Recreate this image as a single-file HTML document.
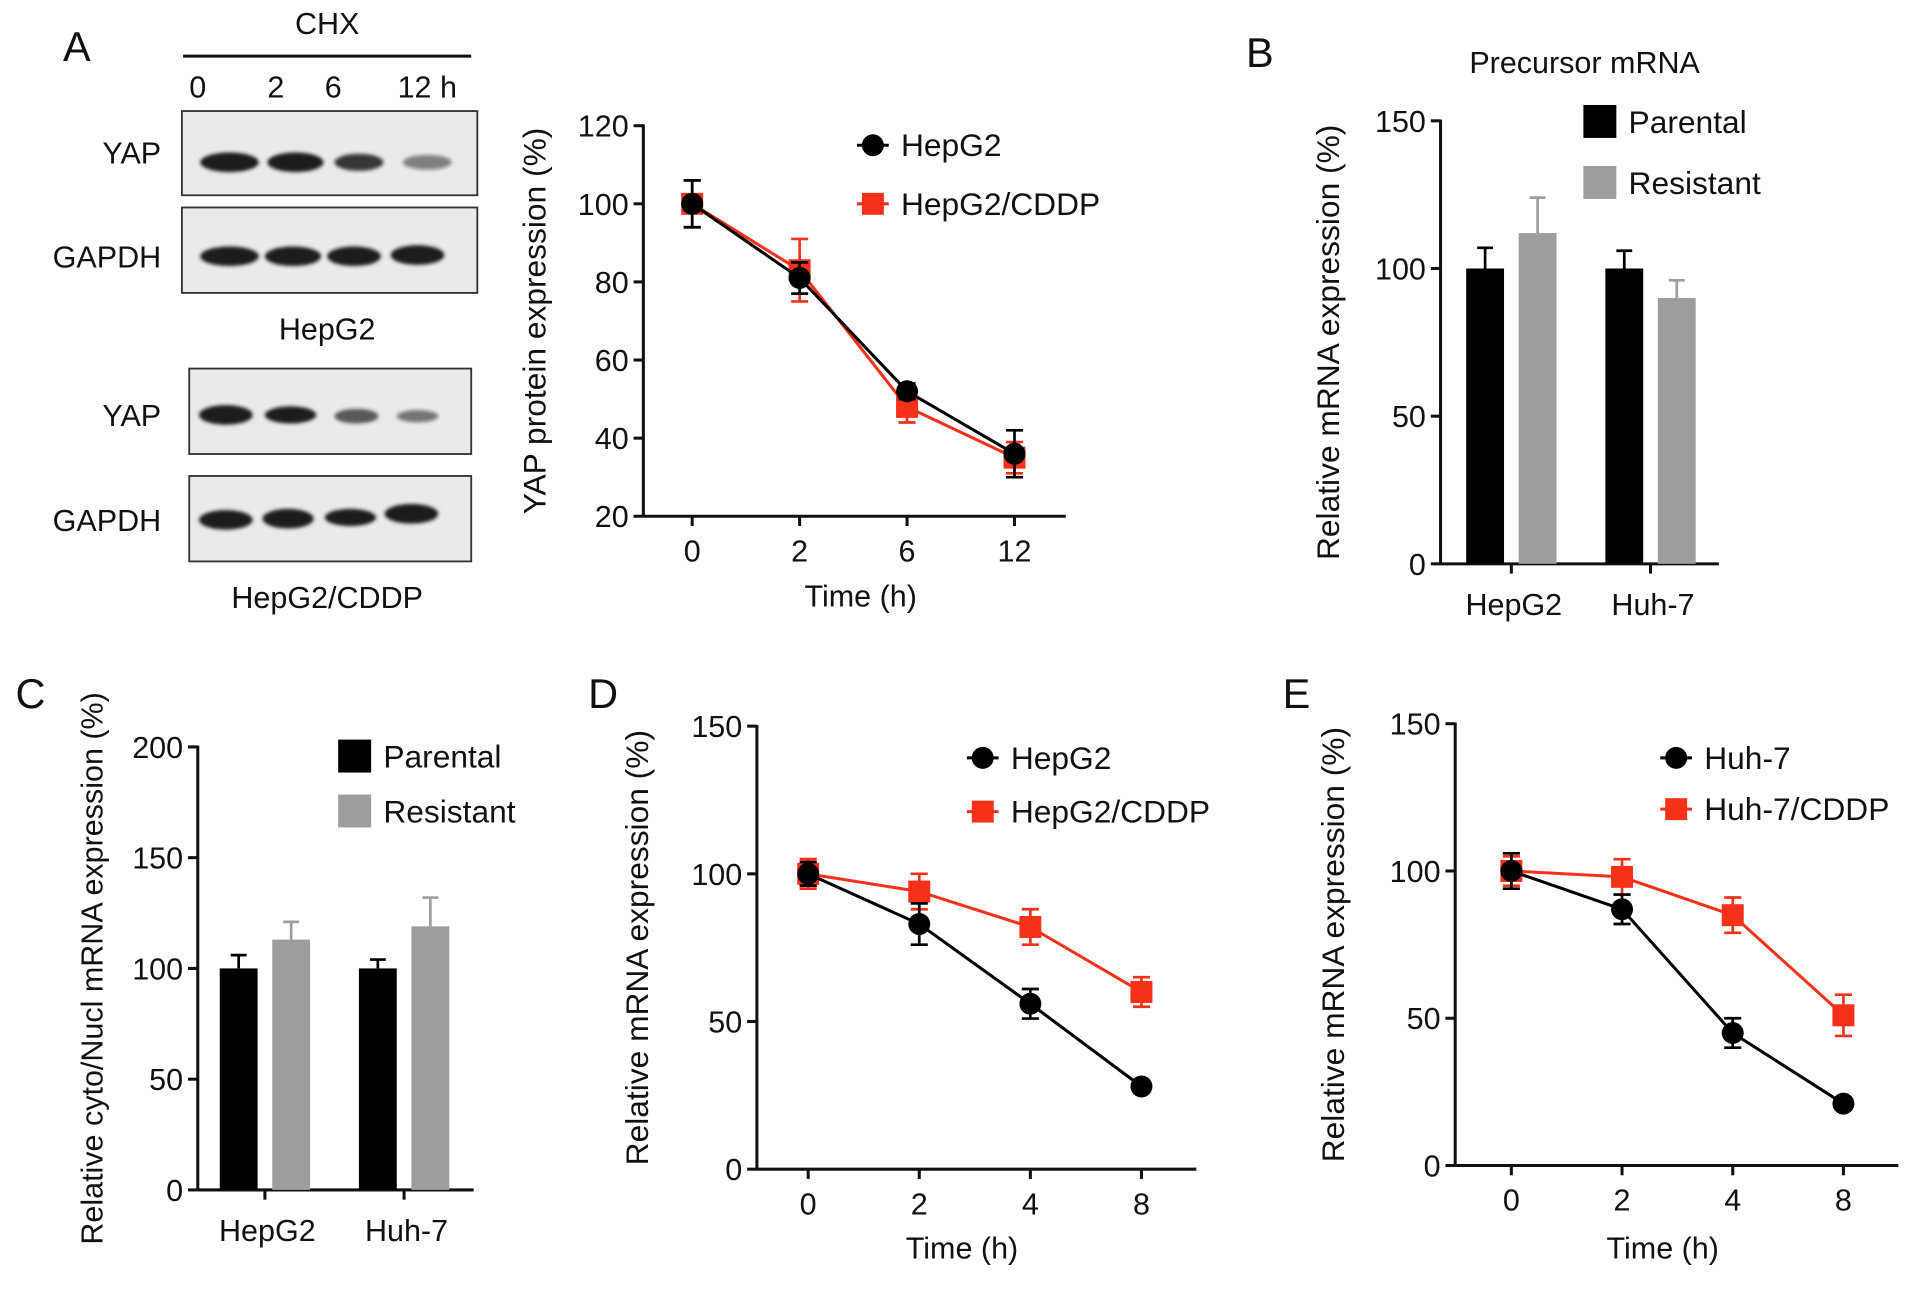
<!DOCTYPE html>
<html><head><meta charset="utf-8"><style>
html,body{margin:0;padding:0;background:#fff;}
svg{display:block;}
text{font-family:"Liberation Sans",sans-serif;fill:#111;}
</style></head><body>
<svg id="fig" width="1913" height="1290" viewBox="0 0 1567 1057" preserveAspectRatio="none" xmlns="http://www.w3.org/2000/svg">
<defs><filter id="blur"><feGaussianBlur stdDeviation="1.5"/></filter></defs>
<g font-size="25">
<text x="63" y="50" font-size="34" text-anchor="middle">A</text>
<text x="268" y="28" text-anchor="middle">CHX</text>
<line x1="150" y1="46" x2="386" y2="46" stroke="#111" stroke-width="2.5"/>
<text x="162" y="80" text-anchor="middle">0</text>
<text x="226" y="80" text-anchor="middle">2</text>
<text x="273" y="80" text-anchor="middle">6</text>
<text x="350" y="80" text-anchor="middle">12 h</text>
<rect x="149" y="91" width="242" height="69" fill="#eaeaea" stroke="#333" stroke-width="1.5"/>
<rect x="149" y="170" width="242" height="70" fill="#eaeaea" stroke="#333" stroke-width="1.5"/>
<rect x="155" y="302" width="231" height="70" fill="#eaeaea" stroke="#333" stroke-width="1.5"/>
<rect x="155" y="390" width="231" height="70" fill="#eaeaea" stroke="#333" stroke-width="1.5"/>
<g fill="#1a1a1a" filter="url(#blur)">
<ellipse cx="188" cy="133" rx="24" ry="8"/><ellipse cx="242" cy="133" rx="23" ry="8"/><ellipse cx="294" cy="133" rx="20" ry="7" opacity=".85"/><ellipse cx="350" cy="133" rx="20" ry="6" opacity=".5"/>
<ellipse cx="188" cy="210" rx="24" ry="8"/><ellipse cx="240" cy="210" rx="23" ry="8"/><ellipse cx="290" cy="210" rx="22" ry="8"/><ellipse cx="342" cy="209" rx="22" ry="8"/>
<ellipse cx="185" cy="340" rx="22" ry="8"/><ellipse cx="238" cy="340" rx="21" ry="7"/><ellipse cx="292" cy="341" rx="18" ry="6" opacity=".7"/><ellipse cx="342" cy="341" rx="17" ry="5" opacity=".55"/>
<ellipse cx="185" cy="426" rx="22" ry="8"/><ellipse cx="236" cy="425" rx="21" ry="8"/><ellipse cx="287" cy="424" rx="21" ry="7"/><ellipse cx="337" cy="421" rx="22" ry="8"/>
</g>
<text x="132" y="134" text-anchor="end">YAP</text>
<text x="132" y="219" text-anchor="end">GAPDH</text>
<text x="132" y="349" text-anchor="end">YAP</text>
<text x="132" y="435" text-anchor="end">GAPDH</text>
<text x="268" y="278" text-anchor="middle">HepG2</text>
<text x="268" y="498" text-anchor="middle">HepG2/CDDP</text>
</g>
<text x="1032" y="55" font-size="34" text-anchor="middle">B</text>
<text x="25" y="580" font-size="34" text-anchor="middle">C</text>
<text x="494" y="580" font-size="34" text-anchor="middle">D</text>
<text x="1062" y="580" font-size="34" text-anchor="middle">E</text>
<text x="1298" y="60" font-size="25" text-anchor="middle">Precursor mRNA</text>
</svg>
<script>
// Panel A data
const aCats=["0","2","6","12"];
const aHep=[100,81,52,36];
const aHepErr=[6,4,2,6];
const aCddp=[100,83,48,35];
const aCddpErr=[6,8,4,4];
const aTicks=[20,40,60,80,100,120];
// Panel D data
const dCats=["0","2","4","8"];
const dHep=[100,83,56,28];
const dHepErr=[4,7,5,2];
const dCddp=[100,94,82,60];
const dCddpErr=[5,6,6,5];
const dTicks=[0,50,100,150];
// Panel E data
const eCats=["0","2","4","8"];
const eHuh=[100,87,45,21];
const eHuhErr=[6,5,5,2];
const eCddp=[100,98,85,51];
const eCddpErr=[5,6,6,7];
const eTicks=[0,50,100,150];
// Panel B data
const bGroups=["HepG2","Huh-7"];
const bParental=[100,100];
const bParentalErr=[7,6];
const bResistant=[112,90];
const bResistantErr=[12,6];
const bTicks=[0,50,100,150];
// Panel C data
const cGroups=["HepG2","Huh-7"];
const cParental=[100,100];
const cParentalErr=[6,4];
const cResistant=[113,119];
const cResistantErr=[8,13];
const cTicks=[0,50,100,150,200];

const svg=document.getElementById('fig');
const NS="http://www.w3.org/2000/svg";
function mk(tag,attrs,parent){const e=document.createElementNS(NS,tag);for(const k in attrs)e.setAttribute(k,attrs[k]);(parent||svg).appendChild(e);return e;}
function txt(s,attrs,parent){const e=mk('text',attrs,parent);e.textContent=s;return e;}

function axes(g,x0,x1,yTop,yBot,ticks,yMin,yMax,ylabel,ylx,xlabel,xlx,xly,ylfs){
  const ys=v=>yBot-(v-yMin)/(yMax-yMin)*(yBot-yTop);
  mk('line',{x1:x0,y1:yTop-1,x2:x0,y2:yBot,stroke:'#111','stroke-width':2.5},g);
  mk('line',{x1:x0,y1:yBot,x2:x1,y2:yBot,stroke:'#111','stroke-width':2.5},g);
  ticks.forEach(t=>{
    mk('line',{x1:x0-8,y1:ys(t),x2:x0,y2:ys(t),stroke:'#111','stroke-width':2.5},g);
    const tl=txt(String(t),{x:x0-12,y:ys(t)+9,'text-anchor':'end','font-size':25},g);
    
    
  });
  const yl=txt(ylabel,{x:0,y:0,'text-anchor':'middle','font-size':ylfs||26,transform:`translate(${ylx},${(yTop+yBot)/2}) rotate(-90)`},g);
  
  
  if(xlabel){
    const xl=txt(xlabel,{x:xlx,y:xly,'text-anchor':'middle','font-size':25},g);
    
    
  }
  return ys;
}

function lineChart(name,cfg){
  const g=mk('g',{});
  
  
  const ys=axes(g,cfg.x0,cfg.x1,cfg.yTop,cfg.yBot,cfg.ticks,cfg.ticks[0],cfg.ticks[cfg.ticks.length-1],cfg.ylabel,cfg.ylx,'Time (h)',cfg.xlx,cfg.xly);
  const xs=i=>cfg.xFirst+i*(cfg.xLast-cfg.xFirst)/(cfg.cats.length-1);
  cfg.cats.forEach((c,i)=>{
    mk('line',{x1:xs(i),y1:cfg.yBot,x2:xs(i),y2:cfg.yBot+8,stroke:'#111','stroke-width':2.5},g);
    const t=txt(c,{x:xs(i),y:cfg.yBot+37,'text-anchor':'middle','font-size':25},g);
    
    
  });
  cfg.series.forEach(s=>{
    const sg=mk('g',{},g);
    
    
    mk('polyline',{points:s.vals.map((v,i)=>xs(i)+','+ys(v)).join(' '),fill:'none',stroke:s.color,'stroke-width':2.5},sg);
    s.vals.forEach((v,i)=>{
      const x=xs(i),e=s.err[i];
      mk('path',{d:`M${x},${ys(v+e)}V${ys(v-e)}M${x-7},${ys(v+e)}H${x+7}M${x-7},${ys(v-e)}H${x+7}`,stroke:s.color,'stroke-width':2.2,fill:'none'},sg);
      const m=s.shape==='c'?mk('circle',{cx:x,cy:ys(v),r:9,fill:s.color},sg):mk('rect',{x:x-9,y:ys(v)-9,width:18,height:18,fill:s.color},sg);
      
      
    });
    const lg=mk('g',{},g);
    
    
    mk('line',{x1:s.lx-13,y1:s.ly,x2:s.lx+13,y2:s.ly,stroke:s.color,'stroke-width':2.5},lg);
    if(s.shape==='c')mk('circle',{cx:s.lx,cy:s.ly,r:9,fill:s.color},lg);else mk('rect',{x:s.lx-9,y:s.ly-9,width:18,height:18,fill:s.color},lg);
    txt(s.name,{x:s.lx+23,y:s.ly+9,'font-size':26},lg);
  });
}

function barChart(name,cfg){
  const g=mk('g',{});
  
  
  const ys=axes(g,cfg.x0,cfg.x1,cfg.yTop,cfg.yBot,cfg.ticks,cfg.ticks[0],cfg.ticks[cfg.ticks.length-1],cfg.ylabel,cfg.ylx,null,0,0,cfg.ylfs);
  const sers=[{name:'Parental',vals:cfg.par,err:cfg.parErr,color:'#000',ec:'#000'},{name:'Resistant',vals:cfg.res,err:cfg.resErr,color:'#9d9d9d',ec:'#9d9d9d'}];
  cfg.groups.forEach((gn,gi)=>{
    const cx=cfg.gFirst+gi*cfg.gStep;
    mk('line',{x1:cx,y1:cfg.yBot,x2:cx,y2:cfg.yBot+8,stroke:'#111','stroke-width':2.5},g);
    const t=txt(gn,{x:cx+2,y:cfg.yBot+42,'text-anchor':'middle','font-size':25},g);
    
    
    sers.forEach((s,si)=>{
      const bx=cx-37+si*43,v=s.vals[gi],e=s.err[gi];
      mk('path',{d:`M${bx+15.5},${ys(v)}V${ys(v+e)}M${bx+9},${ys(v+e)}H${bx+22}`,stroke:s.ec,'stroke-width':2.2,fill:'none'},g);
      const r=mk('rect',{x:bx,y:ys(v),width:31,height:cfg.yBot-ys(v),fill:s.color},g);
      
      
    });
  });
  sers.forEach((s,si)=>{
    const lg=mk('g',{},g);
    
    
    const ly=cfg.ly+si*cfg.lstep;
    mk('rect',{x:cfg.lx,y:ly,width:27,height:27,fill:s.color},lg);
    txt(s.name,{x:cfg.lx+37,y:ly+23,'font-size':26},lg);
  });
}

lineChart('chart-a',{x0:527,x1:873,yTop:103,yBot:423,ticks:aTicks,cats:aCats,xFirst:567,xLast:831,ylabel:'YAP protein expression (%)',ylx:447,xlx:705,xly:497,
  series:[{name:'HepG2/CDDP',vals:aCddp,err:aCddpErr,color:'#f5311a',shape:'s',lx:715,ly:167},{name:'HepG2',vals:aHep,err:aHepErr,color:'#000',shape:'c',lx:715,ly:119}]});
lineChart('chart-d',{x0:620,x1:980,yTop:595,yBot:958,ticks:dTicks,cats:dCats,xFirst:662,xLast:935,ylabel:'Relative mRNA expression (%)',ylx:531,xlx:788,xly:1031,
  series:[{name:'HepG2/CDDP',vals:dCddp,err:dCddpErr,color:'#f5311a',shape:'s',lx:805,ly:665},{name:'HepG2',vals:dHep,err:dHepErr,color:'#000',shape:'c',lx:805,ly:621}]});
lineChart('chart-e',{x0:1192,x1:1555,yTop:593,yBot:955,ticks:eTicks,cats:eCats,xFirst:1238,xLast:1510,ylabel:'Relative mRNA expression (%)',ylx:1101,xlx:1362,xly:1031,
  series:[{name:'Huh-7/CDDP',vals:eCddp,err:eCddpErr,color:'#f5311a',shape:'s',lx:1373,ly:663},{name:'Huh-7',vals:eHuh,err:eHuhErr,color:'#000',shape:'c',lx:1373,ly:621}]});
barChart('chart-b',{x0:1180,x1:1408,yTop:99,yBot:462,ticks:bTicks,groups:bGroups,gFirst:1238,gStep:114,par:bParental,parErr:bParentalErr,res:bResistant,resErr:bResistantErr,ylabel:'Relative mRNA expression (%)',ylx:1097,lx:1297,ly:86,lstep:50});
barChart('chart-c',{x0:162,x1:388,yTop:612,yBot:975,ticks:cTicks,groups:cGroups,gFirst:217,gStep:114,par:cParental,parErr:cParentalErr,res:cResistant,resErr:cResistantErr,ylabel:'Relative cyto/Nucl mRNA expression (%)',ylx:84,ylfs:25,lx:277,ly:606,lstep:45});
</script>
</body></html>
